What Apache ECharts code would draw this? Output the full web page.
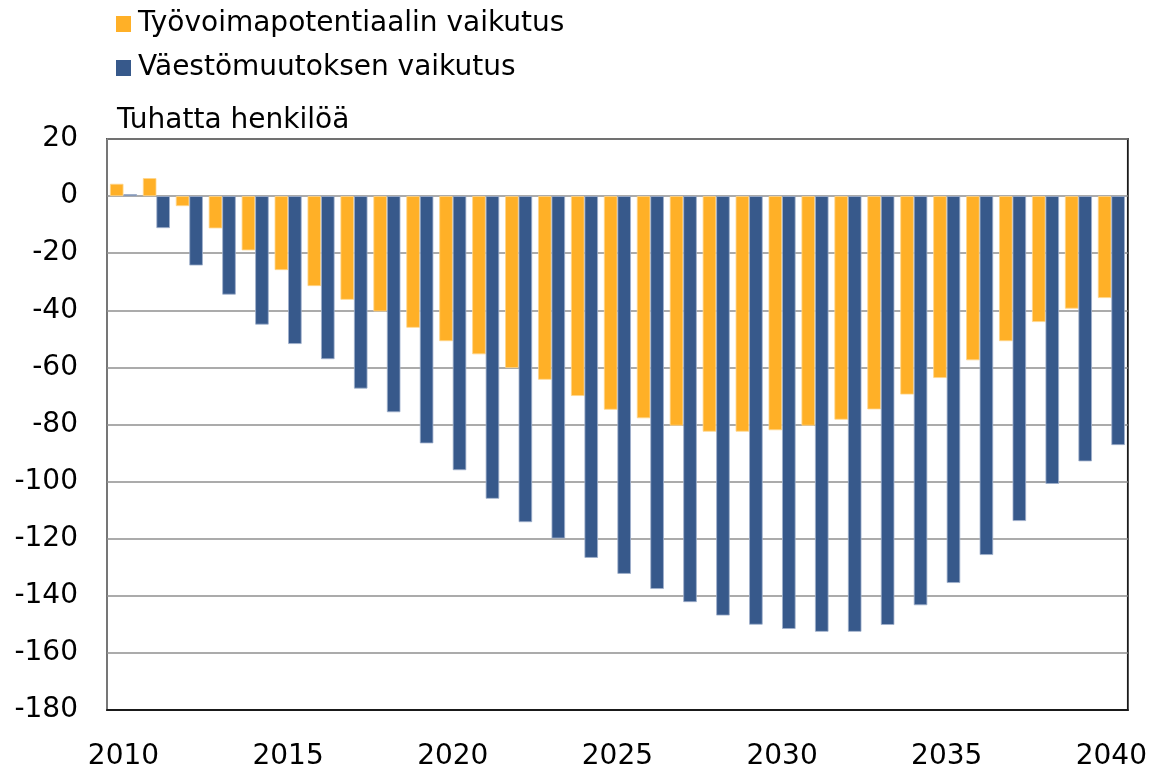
<!DOCTYPE html>
<html>
<head>
<meta charset="utf-8">
<script src="https://cdn.jsdelivr.net/npm/echarts@6/dist/echarts.min.js"></script>
<style>
html,body{margin:0;padding:0;background:#fff;}
#chart{width:1150px;height:771px;}
</style>
</head>
<body>
<div id="chart"></div>
<script>
const years = ['2010','2011','2012','2013','2014','2015','2016','2017','2018','2019','2020','2021','2022','2023','2024','2025','2026','2027','2028','2029','2030','2031','2032','2033','2034','2035','2036','2037','2038','2039','2040'];
const tyovoima = [4.3,6.3,-3.5,-11.3,-19.0,-25.9,-31.5,-36.3,-40.4,-46.1,-50.8,-55.4,-60.2,-64.3,-70.0,-74.8,-77.8,-80.4,-82.5,-82.5,-82.0,-80.4,-78.3,-74.7,-69.5,-63.7,-57.5,-50.8,-44.1,-39.4,-35.7];
const vaesto = [0.7,-11.2,-24.3,-34.5,-45.0,-51.8,-57.1,-67.4,-75.7,-86.6,-96.0,-106.0,-114.2,-119.9,-126.7,-132.3,-137.6,-142.2,-146.9,-150.1,-151.6,-152.6,-152.6,-150.2,-143.3,-135.5,-125.7,-113.8,-100.8,-92.9,-87.2];
const seriesNames = ['Työvoimapotentiaalin vaikutus','Väestömuutoksen vaikutus'];
const unitLabel = 'Tuhatta henkilöä';

const FONT = 'DejaVu Sans';
const chart = echarts.init(document.getElementById('chart'), null, {renderer:'canvas'});
chart.setOption({
  animation:false,
  backgroundColor:'#ffffff',
  textStyle:{fontFamily:FONT},
  legend:{
    orient:'vertical',
    left:111, top:4,
    itemWidth:15, itemHeight:16, itemGap:14,
    icon:'rect',
    itemStyle:{borderWidth:0},
    textStyle:{fontFamily:FONT, fontSize:28, color:'#000', lineHeight:30, padding:[0,0,0,2]},
    data:seriesNames
  },
  graphic:[{
    type:'text', left:117, top:107,
    style:{text:unitLabel, font:'28px "DejaVu Sans"', fill:'#000'}
  }],
  grid:{left:107, right:22, top:139, bottom:60, show:true, borderColor:'#1a1a1a', borderWidth:1.8, backgroundColor:'transparent'},
  xAxis:{
    type:'category', data:years, position:'bottom',
    axisLine:{show:true, onZero:false, lineStyle:{color:'#1a1a1a', width:1.8}},
    axisTick:{show:false},
    axisLabel:{interval:4, fontFamily:FONT, fontSize:28, color:'#000', margin:33},
    splitLine:{show:false}
  },
  yAxis:{
    type:'value', min:-180, max:20, interval:20,
    axisLine:{show:true, lineStyle:{color:'#8f8f8f', width:1.5}},
    axisTick:{show:false},
    axisLabel:{fontFamily:FONT, fontSize:28, color:'#000', margin:29},
    splitLine:{show:true, lineStyle:{color:'#8f8f8f', width:1.5}}
  },
  series:[
    {name:seriesNames[0], type:'bar', data:tyovoima, barWidth:13.5, barGap:'0%',
     itemStyle:{color:'#FFB027', borderColor:'#FFD58A', borderWidth:0.8}},
    {name:seriesNames[1], type:'bar', data:vaesto, barWidth:13.5, barGap:'0%',
     itemStyle:{color:'#37598B', borderColor:'#9FB0CB', borderWidth:0.8}}
  ]
});
</script>
</body>
</html>
